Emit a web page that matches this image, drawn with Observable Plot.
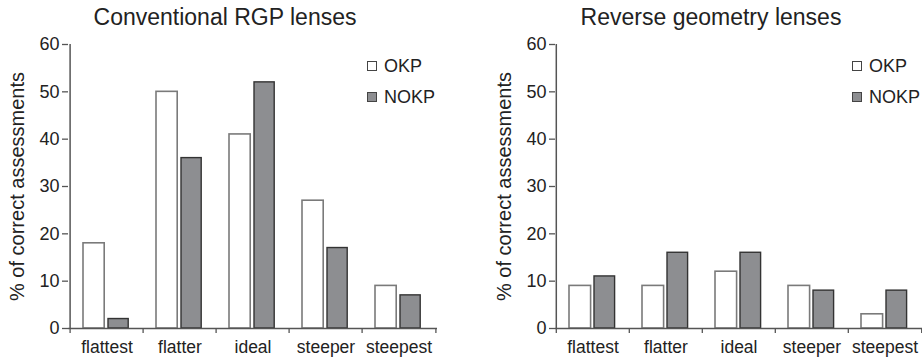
<!DOCTYPE html>
<html>
<head>
<meta charset="utf-8">
<script src="https://cdn.jsdelivr.net/npm/d3@7"></script>
<script src="https://cdn.jsdelivr.net/npm/@observablehq/plot@0.6"></script>
<style>
  body { margin: 0; background: #fff; }
  #wrap { position: relative; width: 922px; height: 361px; font-family: "Liberation Sans", Arial, sans-serif; color: #222; overflow: hidden; }
  .panel { position: absolute; top: 0; width: 461px; height: 361px; }
  .panel svg { overflow: visible; }
  .legend-item { position: absolute; font-size: 18px; line-height: 18px; white-space: nowrap; display: flex; align-items: center; }
  .swatch { width: 8px; height: 8px; border: 1px solid #444; margin-right: 7px; box-sizing: content-box; }
</style>
</head>
<body>
<div id="wrap"></div>
<script>
// ---- data ----
const categories = ["flattest", "flatter", "ideal", "steeper", "steepest"];
const seriesNames = ["OKP", "NOKP"];
const conventionalOKP = [18, 50, 41, 27, 9];
const conventionalNOKP = [2, 36, 52, 17, 7];
const reverseOKP = [9, 9, 12, 9, 3];
const reverseNOKP = [11, 16, 16, 8, 8];
const yTicks = [0, 10, 20, 30, 40, 50, 60];
const panelTitles = ["Conventional RGP lenses", "Reverse geometry lenses"];
const yLabel = "% of correct assessments";

// ---- styles ----
const seriesFill = { OKP: "#ffffff", NOKP: "#8d8e91" };
const seriesStroke = { OKP: "#7a7a7a", NOKP: "#333333" };
const axisColor = "#555";

function makePanel({ title, okp, nokp, left, marginLeft, marginRight }) {
  const width = 461, height = 361, marginTop = 44, marginBottom = 33;
  const bw = (width - marginLeft - marginRight) / categories.length;
  const okpRows = categories.map((c, i) => ({ category: c, series: "OKP", value: okp[i] }));
  const nokpRows = categories.map((c, i) => ({ category: c, series: "NOKP", value: nokp[i] }));

  const chart = Plot.plot({
    width, height, marginTop, marginBottom, marginLeft, marginRight,
    style: { fontFamily: '"Liberation Sans", Arial, sans-serif', fontSize: "17px", color: "#222", background: "transparent", overflow: "visible" },
    x: { type: "band", domain: categories, padding: 0, label: null },
    y: { domain: [0, 60], label: null },
    marks: [
      Plot.barY(okpRows, { x: "category", y: "value", fill: seriesFill.OKP, stroke: seriesStroke.OKP, strokeWidth: 1.6, insetLeft: 13, insetRight: bw - 35 }),
      Plot.barY(nokpRows, { x: "category", y: "value", fill: seriesFill.NOKP, stroke: seriesStroke.NOKP, strokeWidth: 1.4, insetLeft: 38, insetRight: bw - 59 }),
      // axis lines
      Plot.ruleY([0], { stroke: axisColor, strokeWidth: 1.5 }),
      Plot.ruleX([categories[0]], { x: d => d, y1: 0, y2: 60, dx: -bw / 2, stroke: axisColor, strokeWidth: 1.5 }),
      // x boundary ticks
      Plot.axisX({ tickSize: 5, dx: -bw / 2, text: null, stroke: axisColor, strokeWidth: 1.3, label: null }),
      Plot.axisX([categories[categories.length - 1]], { tickSize: 5, dx: bw / 2, text: null, stroke: axisColor, strokeWidth: 1.3, label: null }),
      // x labels
      Plot.axisX({ tickSize: 0, tickPadding: 12, fontSize: 17.5, label: null }),
      // y axis
      Plot.axisY({ ticks: yTicks, tickSize: 6, tickPadding: 3, fontSize: 18, stroke: axisColor, strokeWidth: 1.3, label: null }),
      // y label
      Plot.text([yLabel], { frameAnchor: "left", rotate: -90, dx: -51, textAnchor: "middle", lineAnchor: "middle", fontSize: 20, fill: "#222" }),
      // title
      Plot.text([title], { frameAnchor: "top", dy: -27, dx: -28, textAnchor: "middle", lineAnchor: "middle", fontSize: 23, fill: "#222" })
    ]
  });

  const panel = document.createElement("div");
  panel.className = "panel";
  panel.style.left = left + "px";
  panel.appendChild(chart);

  const frameRight = width - marginRight;
  seriesNames.forEach((name, i) => {
    const item = document.createElement("div");
    item.className = "legend-item";
    item.style.left = (frameRight - 70) + "px";
    item.style.top = (57 + i * 31) + "px";
    const sw = document.createElement("div");
    sw.className = "swatch";
    sw.style.background = seriesFill[name];
    const label = document.createElement("span");
    label.textContent = name;
    item.appendChild(sw);
    item.appendChild(label);
    panel.appendChild(item);
  });
  return panel;
}

const wrap = document.getElementById("wrap");
wrap.appendChild(makePanel({ title: panelTitles[0], okp: conventionalOKP, nokp: conventionalNOKP, left: 0, marginLeft: 68, marginRight: 24 }));
wrap.appendChild(makePanel({ title: panelTitles[1], okp: reverseOKP, nokp: reverseNOKP, left: 461, marginLeft: 94, marginRight: 0 }));
</script>
</body>
</html>
